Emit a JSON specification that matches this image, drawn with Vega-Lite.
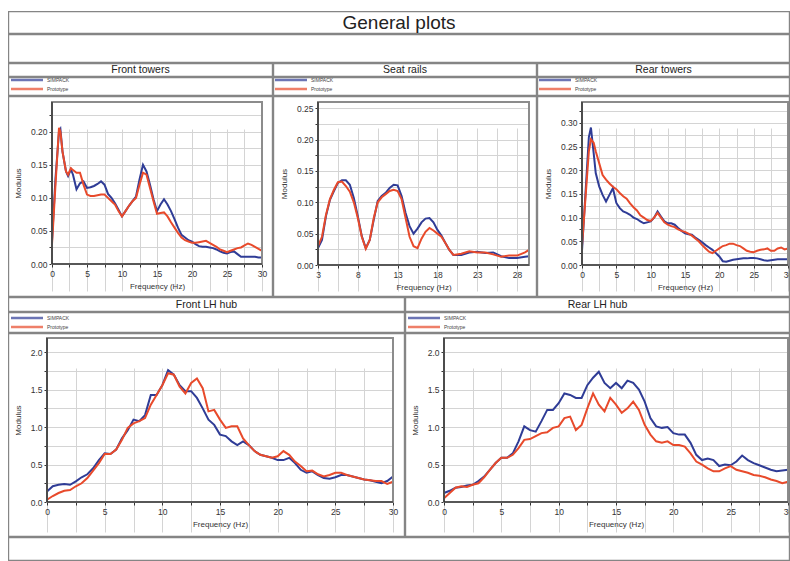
{
"$schema": "https://vega.github.io/schema/vega-lite/v6.json",
"padding": {"left": 8, "top": 11, "right": 0, "bottom": 0},
"background": "white",
"datasets": {
"ft": [
{"f":0,"SIMPACK":0.035,"Prototype":0.03},{"f":0.5,"SIMPACK":0.13,"Prototype":0.12},{"f":1,"SIMPACK":0.2,"Prototype":0.206},{"f":1.2,"SIMPACK":0.204,"Prototype":0.2},{"f":1.5,"SIMPACK":0.17,"Prototype":0.17},{"f":2,"SIMPACK":0.14,"Prototype":0.14},{"f":2.3,"SIMPACK":0.133,"Prototype":0.135},{"f":2.7,"SIMPACK":0.143,"Prototype":0.145},{"f":3,"SIMPACK":0.135,"Prototype":0.142},{"f":3.5,"SIMPACK":0.113,"Prototype":0.138},{"f":4,"SIMPACK":0.122,"Prototype":0.138},{"f":4.5,"SIMPACK":0.125,"Prototype":0.12},{"f":5,"SIMPACK":0.115,"Prototype":0.105},{"f":5.5,"SIMPACK":0.116,"Prototype":0.103},{"f":6,"SIMPACK":0.118,"Prototype":0.103},{"f":6.5,"SIMPACK":0.121,"Prototype":0.104},{"f":7,"SIMPACK":0.125,"Prototype":0.105},{"f":7.5,"SIMPACK":0.12,"Prototype":0.105},{"f":8,"SIMPACK":0.106,"Prototype":0.1},{"f":8.5,"SIMPACK":0.1,"Prototype":0.095},{"f":9,"SIMPACK":0.092,"Prototype":0.09},{"f":9.5,"SIMPACK":0.082,"Prototype":0.08},{"f":10,"SIMPACK":0.072,"Prototype":0.072},{"f":10.5,"SIMPACK":0.08,"Prototype":0.08},{"f":11,"SIMPACK":0.088,"Prototype":0.088},{"f":11.5,"SIMPACK":0.095,"Prototype":0.095},{"f":12,"SIMPACK":0.102,"Prototype":0.1},{"f":12.5,"SIMPACK":0.128,"Prototype":0.12},{"f":13,"SIMPACK":0.15,"Prototype":0.138},{"f":13.5,"SIMPACK":0.14,"Prototype":0.135},{"f":14,"SIMPACK":0.12,"Prototype":0.115},{"f":14.5,"SIMPACK":0.098,"Prototype":0.095},{"f":15,"SIMPACK":0.08,"Prototype":0.076},{"f":15.5,"SIMPACK":0.09,"Prototype":0.077},{"f":16,"SIMPACK":0.098,"Prototype":0.078},{"f":16.5,"SIMPACK":0.09,"Prototype":0.072},{"f":17,"SIMPACK":0.08,"Prototype":0.063},{"f":17.5,"SIMPACK":0.068,"Prototype":0.055},{"f":18,"SIMPACK":0.055,"Prototype":0.047},{"f":18.5,"SIMPACK":0.044,"Prototype":0.04},{"f":19,"SIMPACK":0.04,"Prototype":0.036},{"f":19.5,"SIMPACK":0.036,"Prototype":0.034},{"f":20,"SIMPACK":0.034,"Prototype":0.032},{"f":20.5,"SIMPACK":0.03,"Prototype":0.032},{"f":21,"SIMPACK":0.027,"Prototype":0.033},{"f":21.5,"SIMPACK":0.026,"Prototype":0.034},{"f":22,"SIMPACK":0.026,"Prototype":0.035},{"f":22.5,"SIMPACK":0.025,"Prototype":0.032},{"f":23,"SIMPACK":0.024,"Prototype":0.029},{"f":23.5,"SIMPACK":0.022,"Prototype":0.026},{"f":24,"SIMPACK":0.019,"Prototype":0.022},{"f":24.5,"SIMPACK":0.017,"Prototype":0.02},{"f":25,"SIMPACK":0.016,"Prototype":0.018},{"f":25.5,"SIMPACK":0.018,"Prototype":0.02},{"f":26,"SIMPACK":0.019,"Prototype":0.022},{"f":26.5,"SIMPACK":0.015,"Prototype":0.024},{"f":27,"SIMPACK":0.011,"Prototype":0.025},{"f":27.5,"SIMPACK":0.011,"Prototype":0.028},{"f":28,"SIMPACK":0.011,"Prototype":0.031},{"f":28.5,"SIMPACK":0.011,"Prototype":0.029},{"f":29,"SIMPACK":0.011,"Prototype":0.026},{"f":29.5,"SIMPACK":0.01,"Prototype":0.023},{"f":30,"SIMPACK":0.01,"Prototype":0.02}
],
"sr": [
{"f":3,"SIMPACK":0.027,"Prototype":0.03},{"f":3.5,"SIMPACK":0.04,"Prototype":0.045},{"f":4,"SIMPACK":0.078,"Prototype":0.08},{"f":4.5,"SIMPACK":0.104,"Prototype":0.105},{"f":5,"SIMPACK":0.118,"Prototype":0.12},{"f":5.5,"SIMPACK":0.131,"Prototype":0.132},{"f":6,"SIMPACK":0.135,"Prototype":0.133},{"f":6.5,"SIMPACK":0.135,"Prototype":0.126},{"f":7,"SIMPACK":0.128,"Prototype":0.117},{"f":7.5,"SIMPACK":0.107,"Prototype":0.1},{"f":8,"SIMPACK":0.078,"Prototype":0.075},{"f":8.5,"SIMPACK":0.046,"Prototype":0.045},{"f":9,"SIMPACK":0.027,"Prototype":0.026},{"f":9.5,"SIMPACK":0.04,"Prototype":0.04},{"f":10,"SIMPACK":0.072,"Prototype":0.075},{"f":10.5,"SIMPACK":0.102,"Prototype":0.1},{"f":11,"SIMPACK":0.11,"Prototype":0.108},{"f":11.5,"SIMPACK":0.115,"Prototype":0.113},{"f":12,"SIMPACK":0.123,"Prototype":0.118},{"f":12.5,"SIMPACK":0.128,"Prototype":0.12},{"f":13,"SIMPACK":0.127,"Prototype":0.118},{"f":13.5,"SIMPACK":0.11,"Prototype":0.105},{"f":14,"SIMPACK":0.083,"Prototype":0.075},{"f":14.5,"SIMPACK":0.062,"Prototype":0.045},{"f":15,"SIMPACK":0.05,"Prototype":0.03},{"f":15.5,"SIMPACK":0.058,"Prototype":0.027},{"f":16,"SIMPACK":0.068,"Prototype":0.042},{"f":16.5,"SIMPACK":0.074,"Prototype":0.053},{"f":17,"SIMPACK":0.075,"Prototype":0.059},{"f":17.5,"SIMPACK":0.068,"Prototype":0.055},{"f":18,"SIMPACK":0.056,"Prototype":0.05},{"f":18.5,"SIMPACK":0.047,"Prototype":0.045},{"f":19,"SIMPACK":0.035,"Prototype":0.035},{"f":19.5,"SIMPACK":0.024,"Prototype":0.024},{"f":20,"SIMPACK":0.016,"Prototype":0.016},{"f":21,"SIMPACK":0.016,"Prototype":0.018},{"f":22,"SIMPACK":0.02,"Prototype":0.022},{"f":23,"SIMPACK":0.021,"Prototype":0.02},{"f":24,"SIMPACK":0.019,"Prototype":0.02},{"f":25,"SIMPACK":0.02,"Prototype":0.017},{"f":26,"SIMPACK":0.014,"Prototype":0.013},{"f":27,"SIMPACK":0.011,"Prototype":0.015},{"f":28,"SIMPACK":0.011,"Prototype":0.015},{"f":29,"SIMPACK":0.013,"Prototype":0.02},{"f":29.5,"SIMPACK":0.014,"Prototype":0.024}
],
"rt": [
{"f":0,"SIMPACK":0.03,"Prototype":0.04},{"f":0.5,"SIMPACK":0.15,"Prototype":0.14},{"f":1,"SIMPACK":0.27,"Prototype":0.24},{"f":1.3,"SIMPACK":0.29,"Prototype":0.265},{"f":1.7,"SIMPACK":0.236,"Prototype":0.258},{"f":2,"SIMPACK":0.194,"Prototype":0.24},{"f":2.5,"SIMPACK":0.166,"Prototype":0.215},{"f":3,"SIMPACK":0.148,"Prototype":0.19},{"f":3.5,"SIMPACK":0.134,"Prototype":0.18},{"f":4,"SIMPACK":0.148,"Prototype":0.172},{"f":4.5,"SIMPACK":0.162,"Prototype":0.165},{"f":5,"SIMPACK":0.131,"Prototype":0.16},{"f":5.5,"SIMPACK":0.12,"Prototype":0.152},{"f":6,"SIMPACK":0.113,"Prototype":0.145},{"f":6.5,"SIMPACK":0.11,"Prototype":0.14},{"f":7,"SIMPACK":0.106,"Prototype":0.13},{"f":7.5,"SIMPACK":0.1,"Prototype":0.122},{"f":8,"SIMPACK":0.097,"Prototype":0.115},{"f":8.5,"SIMPACK":0.092,"Prototype":0.105},{"f":9,"SIMPACK":0.088,"Prototype":0.1},{"f":9.5,"SIMPACK":0.09,"Prototype":0.095},{"f":10,"SIMPACK":0.092,"Prototype":0.093},{"f":10.5,"SIMPACK":0.1,"Prototype":0.1},{"f":11,"SIMPACK":0.113,"Prototype":0.11},{"f":11.5,"SIMPACK":0.102,"Prototype":0.1},{"f":12,"SIMPACK":0.092,"Prototype":0.09},{"f":12.5,"SIMPACK":0.088,"Prototype":0.085},{"f":13,"SIMPACK":0.088,"Prototype":0.082},{"f":13.5,"SIMPACK":0.085,"Prototype":0.08},{"f":14,"SIMPACK":0.078,"Prototype":0.075},{"f":14.5,"SIMPACK":0.072,"Prototype":0.072},{"f":15,"SIMPACK":0.067,"Prototype":0.07},{"f":15.5,"SIMPACK":0.065,"Prototype":0.066},{"f":16,"SIMPACK":0.064,"Prototype":0.062},{"f":16.5,"SIMPACK":0.058,"Prototype":0.056},{"f":17,"SIMPACK":0.053,"Prototype":0.05},{"f":17.5,"SIMPACK":0.048,"Prototype":0.042},{"f":18,"SIMPACK":0.042,"Prototype":0.035},{"f":18.5,"SIMPACK":0.037,"Prototype":0.028},{"f":19,"SIMPACK":0.032,"Prototype":0.025},{"f":19.5,"SIMPACK":0.025,"Prototype":0.03},{"f":20,"SIMPACK":0.018,"Prototype":0.035},{"f":20.5,"SIMPACK":0.008,"Prototype":0.04},{"f":21,"SIMPACK":0.007,"Prototype":0.042},{"f":21.5,"SIMPACK":0.009,"Prototype":0.045},{"f":22,"SIMPACK":0.011,"Prototype":0.045},{"f":22.5,"SIMPACK":0.012,"Prototype":0.042},{"f":23,"SIMPACK":0.013,"Prototype":0.04},{"f":23.5,"SIMPACK":0.014,"Prototype":0.035},{"f":24,"SIMPACK":0.014,"Prototype":0.03},{"f":24.5,"SIMPACK":0.015,"Prototype":0.028},{"f":25,"SIMPACK":0.015,"Prototype":0.027},{"f":25.5,"SIMPACK":0.014,"Prototype":0.03},{"f":26,"SIMPACK":0.012,"Prototype":0.032},{"f":26.5,"SIMPACK":0.01,"Prototype":0.033},{"f":27,"SIMPACK":0.009,"Prototype":0.035},{"f":27.5,"SIMPACK":0.01,"Prototype":0.03},{"f":28,"SIMPACK":0.011,"Prototype":0.03},{"f":28.5,"SIMPACK":0.012,"Prototype":0.035},{"f":29,"SIMPACK":0.012,"Prototype":0.037},{"f":29.5,"SIMPACK":0.012,"Prototype":0.033},{"f":30,"SIMPACK":0.012,"Prototype":0.035}
],
"fh": [
{"f":0,"SIMPACK":0.14,"Prototype":0.03},{"f":0.5,"SIMPACK":0.21,"Prototype":0.08},{"f":1,"SIMPACK":0.23,"Prototype":0.12},{"f":1.5,"SIMPACK":0.24,"Prototype":0.15},{"f":2,"SIMPACK":0.23,"Prototype":0.16},{"f":2.5,"SIMPACK":0.275,"Prototype":0.21},{"f":3,"SIMPACK":0.33,"Prototype":0.25},{"f":3.5,"SIMPACK":0.37,"Prototype":0.32},{"f":4,"SIMPACK":0.45,"Prototype":0.42},{"f":4.5,"SIMPACK":0.56,"Prototype":0.52},{"f":5,"SIMPACK":0.65,"Prototype":0.64},{"f":5.5,"SIMPACK":0.64,"Prototype":0.64},{"f":6,"SIMPACK":0.7,"Prototype":0.7},{"f":6.5,"SIMPACK":0.85,"Prototype":0.83},{"f":7,"SIMPACK":0.96,"Prototype":0.99},{"f":7.5,"SIMPACK":1.1,"Prototype":1.05},{"f":8,"SIMPACK":1.08,"Prototype":1.08},{"f":8.5,"SIMPACK":1.16,"Prototype":1.12},{"f":9,"SIMPACK":1.43,"Prototype":1.3},{"f":9.5,"SIMPACK":1.43,"Prototype":1.43},{"f":10,"SIMPACK":1.56,"Prototype":1.56},{"f":10.5,"SIMPACK":1.76,"Prototype":1.72},{"f":11,"SIMPACK":1.7,"Prototype":1.7},{"f":11.5,"SIMPACK":1.56,"Prototype":1.54},{"f":12,"SIMPACK":1.48,"Prototype":1.45},{"f":12.5,"SIMPACK":1.48,"Prototype":1.59},{"f":13,"SIMPACK":1.39,"Prototype":1.65},{"f":13.5,"SIMPACK":1.25,"Prototype":1.52},{"f":14,"SIMPACK":1.1,"Prototype":1.21},{"f":14.5,"SIMPACK":1.03,"Prototype":1.23},{"f":15,"SIMPACK":0.9,"Prototype":1.1},{"f":15.5,"SIMPACK":0.88,"Prototype":0.99},{"f":16,"SIMPACK":0.81,"Prototype":1.01},{"f":16.5,"SIMPACK":0.76,"Prototype":1.01},{"f":17,"SIMPACK":0.81,"Prototype":0.85},{"f":17.5,"SIMPACK":0.76,"Prototype":0.76},{"f":18,"SIMPACK":0.68,"Prototype":0.68},{"f":18.5,"SIMPACK":0.63,"Prototype":0.63},{"f":19,"SIMPACK":0.61,"Prototype":0.61},{"f":19.5,"SIMPACK":0.59,"Prototype":0.59},{"f":20,"SIMPACK":0.56,"Prototype":0.61},{"f":20.5,"SIMPACK":0.56,"Prototype":0.68},{"f":21,"SIMPACK":0.59,"Prototype":0.63},{"f":21.5,"SIMPACK":0.52,"Prototype":0.54},{"f":22,"SIMPACK":0.43,"Prototype":0.48},{"f":22.5,"SIMPACK":0.39,"Prototype":0.41},{"f":23,"SIMPACK":0.41,"Prototype":0.42},{"f":23.5,"SIMPACK":0.36,"Prototype":0.37},{"f":24,"SIMPACK":0.32,"Prototype":0.34},{"f":24.5,"SIMPACK":0.31,"Prototype":0.36},{"f":25,"SIMPACK":0.33,"Prototype":0.39},{"f":25.5,"SIMPACK":0.36,"Prototype":0.39},{"f":26,"SIMPACK":0.36,"Prototype":0.36},{"f":26.5,"SIMPACK":0.34,"Prototype":0.34},{"f":27,"SIMPACK":0.32,"Prototype":0.32},{"f":27.5,"SIMPACK":0.3,"Prototype":0.3},{"f":28,"SIMPACK":0.29,"Prototype":0.29},{"f":28.5,"SIMPACK":0.27,"Prototype":0.28},{"f":29,"SIMPACK":0.25,"Prototype":0.28},{"f":29.5,"SIMPACK":0.28,"Prototype":0.24},{"f":30,"SIMPACK":0.34,"Prototype":0.27}
],
"rh": [
{"f":0,"SIMPACK":0.12,"Prototype":0.05},{"f":0.5,"SIMPACK":0.15,"Prototype":0.12},{"f":1,"SIMPACK":0.19,"Prototype":0.19},{"f":1.5,"SIMPACK":0.2,"Prototype":0.21},{"f":2,"SIMPACK":0.22,"Prototype":0.2},{"f":2.5,"SIMPACK":0.23,"Prototype":0.23},{"f":3,"SIMPACK":0.28,"Prototype":0.25},{"f":3.5,"SIMPACK":0.34,"Prototype":0.33},{"f":4,"SIMPACK":0.43,"Prototype":0.43},{"f":4.5,"SIMPACK":0.52,"Prototype":0.52},{"f":5,"SIMPACK":0.59,"Prototype":0.59},{"f":5.5,"SIMPACK":0.59,"Prototype":0.59},{"f":6,"SIMPACK":0.65,"Prototype":0.63},{"f":6.5,"SIMPACK":0.81,"Prototype":0.72},{"f":7,"SIMPACK":1.01,"Prototype":0.83},{"f":7.5,"SIMPACK":0.96,"Prototype":0.84},{"f":8,"SIMPACK":0.94,"Prototype":0.88},{"f":8.5,"SIMPACK":1.08,"Prototype":0.92},{"f":9,"SIMPACK":1.23,"Prototype":0.93},{"f":9.5,"SIMPACK":1.23,"Prototype":0.99},{"f":10,"SIMPACK":1.32,"Prototype":1.01},{"f":10.5,"SIMPACK":1.45,"Prototype":1.12},{"f":11,"SIMPACK":1.43,"Prototype":1.14},{"f":11.5,"SIMPACK":1.39,"Prototype":0.96},{"f":12,"SIMPACK":1.39,"Prototype":1.03},{"f":12.5,"SIMPACK":1.56,"Prototype":1.25},{"f":13,"SIMPACK":1.66,"Prototype":1.45},{"f":13.5,"SIMPACK":1.74,"Prototype":1.3},{"f":14,"SIMPACK":1.59,"Prototype":1.21},{"f":14.5,"SIMPACK":1.52,"Prototype":1.39},{"f":15,"SIMPACK":1.59,"Prototype":1.3},{"f":15.5,"SIMPACK":1.52,"Prototype":1.19},{"f":16,"SIMPACK":1.62,"Prototype":1.25},{"f":16.5,"SIMPACK":1.59,"Prototype":1.34},{"f":17,"SIMPACK":1.5,"Prototype":1.23},{"f":17.5,"SIMPACK":1.34,"Prototype":1.03},{"f":18,"SIMPACK":1.12,"Prototype":0.9},{"f":18.5,"SIMPACK":1.01,"Prototype":0.81},{"f":19,"SIMPACK":0.99,"Prototype":0.79},{"f":19.5,"SIMPACK":1.0,"Prototype":0.81},{"f":20,"SIMPACK":0.92,"Prototype":0.76},{"f":20.5,"SIMPACK":0.9,"Prototype":0.76},{"f":21,"SIMPACK":0.9,"Prototype":0.74},{"f":21.5,"SIMPACK":0.79,"Prototype":0.65},{"f":22,"SIMPACK":0.63,"Prototype":0.54},{"f":22.5,"SIMPACK":0.56,"Prototype":0.5},{"f":23,"SIMPACK":0.58,"Prototype":0.45},{"f":23.5,"SIMPACK":0.56,"Prototype":0.41},{"f":24,"SIMPACK":0.48,"Prototype":0.41},{"f":24.5,"SIMPACK":0.5,"Prototype":0.45},{"f":25,"SIMPACK":0.49,"Prototype":0.48},{"f":25.5,"SIMPACK":0.54,"Prototype":0.43},{"f":26,"SIMPACK":0.62,"Prototype":0.41},{"f":26.5,"SIMPACK":0.56,"Prototype":0.39},{"f":27,"SIMPACK":0.52,"Prototype":0.36},{"f":27.5,"SIMPACK":0.49,"Prototype":0.35},{"f":28,"SIMPACK":0.46,"Prototype":0.33},{"f":28.5,"SIMPACK":0.43,"Prototype":0.3},{"f":29,"SIMPACK":0.41,"Prototype":0.28},{"f":29.5,"SIMPACK":0.42,"Prototype":0.25},{"f":30,"SIMPACK":0.43,"Prototype":0.27}
],
"series": [{"s": "SIMPACK"}, {"s": "Prototype"}],
"one": [{}]
},
"vconcat": [
{"width": 782, "height": 23, "data": {"values": [{"t": "General plots"}]}, "layer": [{"data": {"name": "one"}, "mark": {"type": "rect", "fillOpacity": 0, "stroke": "#858585", "strokeWidth": 2.4, "clip": true}, "encoding": {}}, {"mark": {"type": "text", "fontSize": 19, "color": "#222"}, "encoding": {"text": {"field": "t"}}}]},
{"width": 782, "height": 29, "data": {"name": "one"}, "mark": {"type": "rect", "fillOpacity": 0, "stroke": "#858585", "strokeWidth": 2.4, "clip": true}, "encoding": {}},
{"hconcat": [
 {"vconcat": [
  {"width": 265, "height": 14, "data": {"values": [{"t": "Front towers"}]}, "layer": [{"data": {"name": "one"}, "mark": {"type": "rect", "fillOpacity": 0, "stroke": "#858585", "strokeWidth": 2.4, "clip": true}, "encoding": {}}, {"mark": {"type": "text", "fontSize": 10.5, "color": "#222"}, "encoding": {"text": {"field": "t"}}}]},
  {"width": 265, "height": 19, "layer": [{"data": {"name": "one"}, "mark": {"type": "rect", "fillOpacity": 0, "stroke": "#858585", "strokeWidth": 2.4, "clip": true}, "encoding": {}}, {"data": {"name": "series"}, "mark": {"type": "point", "size": 0, "filled": false}, "encoding": {"color": {"field": "s", "type": "nominal", "scale": {"domain": ["SIMPACK", "Prototype"], "range": ["#2f3c96", "#e84a2b"]}, "legend": {"title": null, "orient": "none", "legendX": 15, "legendY": -1, "direction": "vertical", "symbolType": "M-5.84,0H5.84", "symbolSize": 30, "symbolStrokeWidth": 2.5, "labelFontSize": 5, "labelOffset": 16, "rowPadding": -2, "padding": 0, "labelColor": "#444"}}}}]},
  {"width": 265, "height": 201, "layer": [
   {"data": {"name": "ft"}, "transform": [{"fold": ["SIMPACK", "Prototype"], "as": ["s", "m"]}],
    "mark": {"type": "line", "strokeWidth": 2},
    "encoding": {
     "x": {"field": "f", "type": "quantitative", "scale": {"domain": [0, 30], "range": [44, 254], "nice": false, "zero": false},
       "axis": {"title": "Frequency (Hz)", "offset": -33, "values": [0,2.5,5,7.5,10,12.5,15,17.5,20,22.5,25,27.5,30], "labelExpr": "datum.value % 1 === 0 ? datum.label : ''"}},
     "y": {"field": "m", "type": "quantitative", "scale": {"domain": [0, 0.245], "range": [168, 6], "nice": false},
       "axis": {"title": "Modulus", "offset": -44, "format": ".2f", "values": [0,0.025,0.05,0.075,0.1,0.125,0.15,0.175,0.2,0.225], "labelExpr": "abs(datum.value*20 - round(datum.value*20)) < 0.001 ? datum.label : ''"}},
     "color": {"field": "s", "type": "nominal", "scale": {"domain": ["SIMPACK", "Prototype"], "range": ["#2f3c96", "#e84a2b"]}, "legend": null}
    }},
   {"data": {"name": "one"}, "mark": {"type": "rect", "fillOpacity": 0, "stroke": "#8c8c8c", "strokeWidth": 2}, "encoding": {
     "x": {"datum": 0, "axis": {"title": "Frequency (Hz)", "offset": -33, "values": [0,2.5,5,7.5,10,12.5,15,17.5,20,22.5,25,27.5,30], "labelExpr": "datum.value % 1 === 0 ? datum.label : ''"}}, "x2": {"datum": 30},
     "y": {"datum": 0, "axis": {"title": "Modulus", "offset": -44, "format": ".2f", "values": [0,0.025,0.05,0.075,0.1,0.125,0.15,0.175,0.2,0.225], "labelExpr": "abs(datum.value*20 - round(datum.value*20)) < 0.001 ? datum.label : ''"}}, "y2": {"datum": 0.245}}},
   {"data": {"name": "one"}, "mark": {"type": "rule", "color": "#222", "strokeWidth": 1.2}, "encoding": {
     "x": {"datum": 0, "axis": {"title": "Frequency (Hz)", "offset": -33, "values": [0,2.5,5,7.5,10,12.5,15,17.5,20,22.5,25,27.5,30], "labelExpr": "datum.value % 1 === 0 ? datum.label : ''"}},
     "y": {"datum": 0, "axis": {"title": "Modulus", "offset": -44, "format": ".2f", "values": [0,0.025,0.05,0.075,0.1,0.125,0.15,0.175,0.2,0.225], "labelExpr": "abs(datum.value*20 - round(datum.value*20)) < 0.001 ? datum.label : ''"}}, "y2": {"datum": 0.245}}},
   {"data": {"name": "one"}, "mark": {"type": "rule", "color": "#222", "strokeWidth": 1.2}, "encoding": {
     "x": {"datum": 0, "axis": {"title": "Frequency (Hz)", "offset": -33, "values": [0,2.5,5,7.5,10,12.5,15,17.5,20,22.5,25,27.5,30], "labelExpr": "datum.value % 1 === 0 ? datum.label : ''"}}, "x2": {"datum": 30},
     "y": {"datum": 0, "axis": {"title": "Modulus", "offset": -44, "format": ".2f", "values": [0,0.025,0.05,0.075,0.1,0.125,0.15,0.175,0.2,0.225], "labelExpr": "abs(datum.value*20 - round(datum.value*20)) < 0.001 ? datum.label : ''"}}}},
   {"data": {"name": "one"}, "mark": {"type": "rect", "fillOpacity": 0, "stroke": "#858585", "strokeWidth": 2.4, "clip": true}, "encoding": {"x": {"value": 0}, "x2": {"value": "width"}, "y": {"value": 0}, "y2": {"value": "height"}}}
  ]}
 ], "bounds": "flush", "spacing": 0, "resolve": {"scale": {"color": "independent"}}},
 {"vconcat": [
  {"width": 264, "height": 14, "data": {"values": [{"t": "Seat rails"}]}, "layer": [{"data": {"name": "one"}, "mark": {"type": "rect", "fillOpacity": 0, "stroke": "#858585", "strokeWidth": 2.4, "clip": true}, "encoding": {}}, {"mark": {"type": "text", "fontSize": 10.5, "color": "#222"}, "encoding": {"text": {"field": "t"}}}]},
  {"width": 264, "height": 19, "layer": [{"data": {"name": "one"}, "mark": {"type": "rect", "fillOpacity": 0, "stroke": "#858585", "strokeWidth": 2.4, "clip": true}, "encoding": {}}, {"data": {"name": "series"}, "mark": {"type": "point", "size": 0, "filled": false}, "encoding": {"color": {"field": "s", "type": "nominal", "scale": {"domain": ["SIMPACK", "Prototype"], "range": ["#2f3c96", "#e84a2b"]}, "legend": {"title": null, "orient": "none", "legendX": 14, "legendY": -1, "direction": "vertical", "symbolType": "M-5.84,0H5.84", "symbolSize": 30, "symbolStrokeWidth": 2.5, "labelFontSize": 5, "labelOffset": 16, "rowPadding": -2, "padding": 0, "labelColor": "#444"}}}}]},
  {"width": 264, "height": 201, "layer": [
   {"data": {"name": "sr"}, "transform": [{"fold": ["SIMPACK", "Prototype"], "as": ["s", "m"]}],
    "mark": {"type": "line", "strokeWidth": 2},
    "encoding": {
     "x": {"field": "f", "type": "quantitative", "scale": {"domain": [3, 29.5], "range": [45, 256], "nice": false, "zero": false},
       "axis": {"title": "Frequency (Hz)", "offset": -32, "values": [3,5.5,8,10.5,13,15.5,18,20.5,23,25.5,28], "labelExpr": "datum.value % 1 === 0 ? datum.label : ''"}},
     "y": {"field": "m", "type": "quantitative", "scale": {"domain": [0, 0.26], "range": [169, 6], "nice": false},
       "axis": {"title": "Modulus", "offset": -45, "format": ".2f", "values": [0,0.025,0.05,0.075,0.1,0.125,0.15,0.175,0.2,0.225,0.25], "labelExpr": "abs(datum.value*20 - round(datum.value*20)) < 0.001 ? datum.label : ''"}},
     "color": {"field": "s", "type": "nominal", "scale": {"domain": ["SIMPACK", "Prototype"], "range": ["#2f3c96", "#e84a2b"]}, "legend": null}
    }},
   {"data": {"name": "one"}, "mark": {"type": "rect", "fillOpacity": 0, "stroke": "#8c8c8c", "strokeWidth": 2}, "encoding": {
     "x": {"datum": 3, "axis": {"title": "Frequency (Hz)", "offset": -32, "values": [3,5.5,8,10.5,13,15.5,18,20.5,23,25.5,28], "labelExpr": "datum.value % 1 === 0 ? datum.label : ''"}}, "x2": {"datum": 29.5},
     "y": {"datum": 0, "axis": {"title": "Modulus", "offset": -45, "format": ".2f", "values": [0,0.025,0.05,0.075,0.1,0.125,0.15,0.175,0.2,0.225,0.25], "labelExpr": "abs(datum.value*20 - round(datum.value*20)) < 0.001 ? datum.label : ''"}}, "y2": {"datum": 0.26}}},
   {"data": {"name": "one"}, "mark": {"type": "rule", "color": "#222", "strokeWidth": 1.2}, "encoding": {
     "x": {"datum": 3, "axis": {"title": "Frequency (Hz)", "offset": -32, "values": [3,5.5,8,10.5,13,15.5,18,20.5,23,25.5,28], "labelExpr": "datum.value % 1 === 0 ? datum.label : ''"}},
     "y": {"datum": 0, "axis": {"title": "Modulus", "offset": -45, "format": ".2f", "values": [0,0.025,0.05,0.075,0.1,0.125,0.15,0.175,0.2,0.225,0.25], "labelExpr": "abs(datum.value*20 - round(datum.value*20)) < 0.001 ? datum.label : ''"}}, "y2": {"datum": 0.26}}},
   {"data": {"name": "one"}, "mark": {"type": "rule", "color": "#222", "strokeWidth": 1.2}, "encoding": {
     "x": {"datum": 3, "axis": {"title": "Frequency (Hz)", "offset": -32, "values": [3,5.5,8,10.5,13,15.5,18,20.5,23,25.5,28], "labelExpr": "datum.value % 1 === 0 ? datum.label : ''"}}, "x2": {"datum": 29.5},
     "y": {"datum": 0, "axis": {"title": "Modulus", "offset": -45, "format": ".2f", "values": [0,0.025,0.05,0.075,0.1,0.125,0.15,0.175,0.2,0.225,0.25], "labelExpr": "abs(datum.value*20 - round(datum.value*20)) < 0.001 ? datum.label : ''"}}}},
   {"data": {"name": "one"}, "mark": {"type": "rect", "fillOpacity": 0, "stroke": "#858585", "strokeWidth": 2.4, "clip": true}, "encoding": {"x": {"value": 0}, "x2": {"value": "width"}, "y": {"value": 0}, "y2": {"value": "height"}}}
  ]}
 ], "bounds": "flush", "spacing": 0, "resolve": {"scale": {"color": "independent"}}},
 {"vconcat": [
  {"width": 253, "height": 14, "data": {"values": [{"t": "Rear towers"}]}, "layer": [{"data": {"name": "one"}, "mark": {"type": "rect", "fillOpacity": 0, "stroke": "#858585", "strokeWidth": 2.4, "clip": true}, "encoding": {}}, {"mark": {"type": "text", "fontSize": 10.5, "color": "#222"}, "encoding": {"text": {"field": "t"}}}]},
  {"width": 253, "height": 19, "layer": [{"data": {"name": "one"}, "mark": {"type": "rect", "fillOpacity": 0, "stroke": "#858585", "strokeWidth": 2.4, "clip": true}, "encoding": {}}, {"data": {"name": "series"}, "mark": {"type": "point", "size": 0, "filled": false}, "encoding": {"color": {"field": "s", "type": "nominal", "scale": {"domain": ["SIMPACK", "Prototype"], "range": ["#2f3c96", "#e84a2b"]}, "legend": {"title": null, "orient": "none", "legendX": 14, "legendY": -1, "direction": "vertical", "symbolType": "M-5.84,0H5.84", "symbolSize": 30, "symbolStrokeWidth": 2.5, "labelFontSize": 5, "labelOffset": 16, "rowPadding": -2, "padding": 0, "labelColor": "#444"}}}}]},
  {"width": 253, "height": 201, "layer": [
   {"data": {"name": "rt"}, "transform": [{"fold": ["SIMPACK", "Prototype"], "as": ["s", "m"]}],
    "mark": {"type": "line", "strokeWidth": 2},
    "encoding": {
     "x": {"field": "f", "type": "quantitative", "scale": {"domain": [0, 30], "range": [45, 251], "nice": false, "zero": false},
       "axis": {"title": "Frequency (Hz)", "offset": -32, "values": [0,2.5,5,7.5,10,12.5,15,17.5,20,22.5,25,27.5,30], "labelExpr": "datum.value % 1 === 0 ? datum.label : ''"}},
     "y": {"field": "m", "type": "quantitative", "scale": {"domain": [0, 0.344], "range": [169, 6], "nice": false},
       "axis": {"title": "Modulus", "offset": -45, "format": ".2f", "values": [0,0.025,0.05,0.075,0.1,0.125,0.15,0.175,0.2,0.225,0.25,0.275,0.3,0.325], "labelExpr": "abs(datum.value*20 - round(datum.value*20)) < 0.001 ? datum.label : ''"}},
     "color": {"field": "s", "type": "nominal", "scale": {"domain": ["SIMPACK", "Prototype"], "range": ["#2f3c96", "#e84a2b"]}, "legend": null}
    }},
   {"data": {"name": "one"}, "mark": {"type": "rect", "fillOpacity": 0, "stroke": "#8c8c8c", "strokeWidth": 2}, "encoding": {
     "x": {"datum": 0, "axis": {"title": "Frequency (Hz)", "offset": -32, "values": [0,2.5,5,7.5,10,12.5,15,17.5,20,22.5,25,27.5,30], "labelExpr": "datum.value % 1 === 0 ? datum.label : ''"}}, "x2": {"datum": 30},
     "y": {"datum": 0, "axis": {"title": "Modulus", "offset": -45, "format": ".2f", "values": [0,0.025,0.05,0.075,0.1,0.125,0.15,0.175,0.2,0.225,0.25,0.275,0.3,0.325], "labelExpr": "abs(datum.value*20 - round(datum.value*20)) < 0.001 ? datum.label : ''"}}, "y2": {"datum": 0.344}}},
   {"data": {"name": "one"}, "mark": {"type": "rule", "color": "#222", "strokeWidth": 1.2}, "encoding": {
     "x": {"datum": 0, "axis": {"title": "Frequency (Hz)", "offset": -32, "values": [0,2.5,5,7.5,10,12.5,15,17.5,20,22.5,25,27.5,30], "labelExpr": "datum.value % 1 === 0 ? datum.label : ''"}},
     "y": {"datum": 0, "axis": {"title": "Modulus", "offset": -45, "format": ".2f", "values": [0,0.025,0.05,0.075,0.1,0.125,0.15,0.175,0.2,0.225,0.25,0.275,0.3,0.325], "labelExpr": "abs(datum.value*20 - round(datum.value*20)) < 0.001 ? datum.label : ''"}}, "y2": {"datum": 0.344}}},
   {"data": {"name": "one"}, "mark": {"type": "rule", "color": "#222", "strokeWidth": 1.2}, "encoding": {
     "x": {"datum": 0, "axis": {"title": "Frequency (Hz)", "offset": -32, "values": [0,2.5,5,7.5,10,12.5,15,17.5,20,22.5,25,27.5,30], "labelExpr": "datum.value % 1 === 0 ? datum.label : ''"}}, "x2": {"datum": 30},
     "y": {"datum": 0, "axis": {"title": "Modulus", "offset": -45, "format": ".2f", "values": [0,0.025,0.05,0.075,0.1,0.125,0.15,0.175,0.2,0.225,0.25,0.275,0.3,0.325], "labelExpr": "abs(datum.value*20 - round(datum.value*20)) < 0.001 ? datum.label : ''"}}}},
   {"data": {"name": "one"}, "mark": {"type": "rect", "fillOpacity": 0, "stroke": "#858585", "strokeWidth": 2.4, "clip": true}, "encoding": {"x": {"value": 0}, "x2": {"value": "width"}, "y": {"value": 0}, "y2": {"value": "height"}}}
  ]}
 ], "bounds": "flush", "spacing": 0, "resolve": {"scale": {"color": "independent"}}}
], "spacing": 0, "resolve": {"scale": {"color": "independent"}}},
{"hconcat": [
 {"vconcat": [
  {"width": 397, "height": 15, "data": {"values": [{"t": "Front LH hub"}]}, "layer": [{"data": {"name": "one"}, "mark": {"type": "rect", "fillOpacity": 0, "stroke": "#858585", "strokeWidth": 2.4, "clip": true}, "encoding": {}}, {"mark": {"type": "text", "fontSize": 10.5, "color": "#222"}, "encoding": {"text": {"field": "t"}}}]},
  {"width": 397, "height": 21, "layer": [{"data": {"name": "one"}, "mark": {"type": "rect", "fillOpacity": 0, "stroke": "#858585", "strokeWidth": 2.4, "clip": true}, "encoding": {}}, {"data": {"name": "series"}, "mark": {"type": "point", "size": 0, "filled": false}, "encoding": {"color": {"field": "s", "type": "nominal", "scale": {"domain": ["SIMPACK", "Prototype"], "range": ["#2f3c96", "#e84a2b"]}, "legend": {"title": null, "orient": "none", "legendX": 15, "legendY": 2, "direction": "vertical", "symbolType": "M-5.84,0H5.84", "symbolSize": 30, "symbolStrokeWidth": 2.5, "labelFontSize": 5, "labelOffset": 16, "rowPadding": -2, "padding": 0, "labelColor": "#444"}}}}]},
  {"width": 397, "height": 204, "layer": [
   {"data": {"name": "fh"}, "transform": [{"fold": ["SIMPACK", "Prototype"], "as": ["s", "m"]}],
    "mark": {"type": "line", "strokeWidth": 2},
    "encoding": {
     "x": {"field": "f", "type": "quantitative", "scale": {"domain": [0, 30], "range": [39, 385], "nice": false, "zero": false},
       "axis": {"title": "Frequency (Hz)", "offset": -35, "values": [0,2.5,5,7.5,10,12.5,15,17.5,20,22.5,25,27.5,30], "labelExpr": "datum.value % 1 === 0 ? datum.label : ''"}},
     "y": {"field": "m", "type": "quantitative", "scale": {"domain": [0, 2.19], "range": [169, 5], "nice": false},
       "axis": {"title": "Modulus", "offset": -39, "format": ".1f", "values": [0,0.25,0.5,0.75,1,1.25,1.5,1.75,2], "labelExpr": "abs(datum.value*2 - round(datum.value*2)) < 0.001 ? datum.label : ''"}},
     "color": {"field": "s", "type": "nominal", "scale": {"domain": ["SIMPACK", "Prototype"], "range": ["#2f3c96", "#e84a2b"]}, "legend": null}
    }},
   {"data": {"name": "one"}, "mark": {"type": "rect", "fillOpacity": 0, "stroke": "#8c8c8c", "strokeWidth": 2}, "encoding": {
     "x": {"datum": 0, "axis": {"title": "Frequency (Hz)", "offset": -35, "values": [0,2.5,5,7.5,10,12.5,15,17.5,20,22.5,25,27.5,30], "labelExpr": "datum.value % 1 === 0 ? datum.label : ''"}}, "x2": {"datum": 30},
     "y": {"datum": 0, "axis": {"title": "Modulus", "offset": -39, "format": ".1f", "values": [0,0.25,0.5,0.75,1,1.25,1.5,1.75,2], "labelExpr": "abs(datum.value*2 - round(datum.value*2)) < 0.001 ? datum.label : ''"}}, "y2": {"datum": 2.19}}},
   {"data": {"name": "one"}, "mark": {"type": "rule", "color": "#222", "strokeWidth": 1.2}, "encoding": {
     "x": {"datum": 0, "axis": {"title": "Frequency (Hz)", "offset": -35, "values": [0,2.5,5,7.5,10,12.5,15,17.5,20,22.5,25,27.5,30], "labelExpr": "datum.value % 1 === 0 ? datum.label : ''"}},
     "y": {"datum": 0, "axis": {"title": "Modulus", "offset": -39, "format": ".1f", "values": [0,0.25,0.5,0.75,1,1.25,1.5,1.75,2], "labelExpr": "abs(datum.value*2 - round(datum.value*2)) < 0.001 ? datum.label : ''"}}, "y2": {"datum": 2.19}}},
   {"data": {"name": "one"}, "mark": {"type": "rule", "color": "#222", "strokeWidth": 1.2}, "encoding": {
     "x": {"datum": 0, "axis": {"title": "Frequency (Hz)", "offset": -35, "values": [0,2.5,5,7.5,10,12.5,15,17.5,20,22.5,25,27.5,30], "labelExpr": "datum.value % 1 === 0 ? datum.label : ''"}}, "x2": {"datum": 30},
     "y": {"datum": 0, "axis": {"title": "Modulus", "offset": -39, "format": ".1f", "values": [0,0.25,0.5,0.75,1,1.25,1.5,1.75,2], "labelExpr": "abs(datum.value*2 - round(datum.value*2)) < 0.001 ? datum.label : ''"}}}},
   {"data": {"name": "one"}, "mark": {"type": "rect", "fillOpacity": 0, "stroke": "#858585", "strokeWidth": 2.4, "clip": true}, "encoding": {"x": {"value": 0}, "x2": {"value": "width"}, "y": {"value": 0}, "y2": {"value": "height"}}}
  ]}
 ], "bounds": "flush", "spacing": 0, "resolve": {"scale": {"color": "independent"}}},
 {"vconcat": [
  {"width": 385, "height": 15, "data": {"values": [{"t": "Rear LH hub"}]}, "layer": [{"data": {"name": "one"}, "mark": {"type": "rect", "fillOpacity": 0, "stroke": "#858585", "strokeWidth": 2.4, "clip": true}, "encoding": {}}, {"mark": {"type": "text", "fontSize": 10.5, "color": "#222"}, "encoding": {"text": {"field": "t"}}}]},
  {"width": 385, "height": 21, "layer": [{"data": {"name": "one"}, "mark": {"type": "rect", "fillOpacity": 0, "stroke": "#858585", "strokeWidth": 2.4, "clip": true}, "encoding": {}}, {"data": {"name": "series"}, "mark": {"type": "point", "size": 0, "filled": false}, "encoding": {"color": {"field": "s", "type": "nominal", "scale": {"domain": ["SIMPACK", "Prototype"], "range": ["#2f3c96", "#e84a2b"]}, "legend": {"title": null, "orient": "none", "legendX": 15, "legendY": 2, "direction": "vertical", "symbolType": "M-5.84,0H5.84", "symbolSize": 30, "symbolStrokeWidth": 2.5, "labelFontSize": 5, "labelOffset": 16, "rowPadding": -2, "padding": 0, "labelColor": "#444"}}}}]},
  {"width": 385, "height": 204, "layer": [
   {"data": {"name": "rh"}, "transform": [{"fold": ["SIMPACK", "Prototype"], "as": ["s", "m"]}],
    "mark": {"type": "line", "strokeWidth": 2},
    "encoding": {
     "x": {"field": "f", "type": "quantitative", "scale": {"domain": [0, 30], "range": [39, 383], "nice": false, "zero": false},
       "axis": {"title": "Frequency (Hz)", "offset": -35, "values": [0,2.5,5,7.5,10,12.5,15,17.5,20,22.5,25,27.5,30], "labelExpr": "datum.value % 1 === 0 ? datum.label : ''"}},
     "y": {"field": "m", "type": "quantitative", "scale": {"domain": [0, 2.19], "range": [169, 5], "nice": false},
       "axis": {"title": "Modulus", "offset": -39, "format": ".1f", "values": [0,0.25,0.5,0.75,1,1.25,1.5,1.75,2], "labelExpr": "abs(datum.value*2 - round(datum.value*2)) < 0.001 ? datum.label : ''"}},
     "color": {"field": "s", "type": "nominal", "scale": {"domain": ["SIMPACK", "Prototype"], "range": ["#2f3c96", "#e84a2b"]}, "legend": null}
    }},
   {"data": {"name": "one"}, "mark": {"type": "rect", "fillOpacity": 0, "stroke": "#8c8c8c", "strokeWidth": 2}, "encoding": {
     "x": {"datum": 0, "axis": {"title": "Frequency (Hz)", "offset": -35, "values": [0,2.5,5,7.5,10,12.5,15,17.5,20,22.5,25,27.5,30], "labelExpr": "datum.value % 1 === 0 ? datum.label : ''"}}, "x2": {"datum": 30},
     "y": {"datum": 0, "axis": {"title": "Modulus", "offset": -39, "format": ".1f", "values": [0,0.25,0.5,0.75,1,1.25,1.5,1.75,2], "labelExpr": "abs(datum.value*2 - round(datum.value*2)) < 0.001 ? datum.label : ''"}}, "y2": {"datum": 2.19}}},
   {"data": {"name": "one"}, "mark": {"type": "rule", "color": "#222", "strokeWidth": 1.2}, "encoding": {
     "x": {"datum": 0, "axis": {"title": "Frequency (Hz)", "offset": -35, "values": [0,2.5,5,7.5,10,12.5,15,17.5,20,22.5,25,27.5,30], "labelExpr": "datum.value % 1 === 0 ? datum.label : ''"}},
     "y": {"datum": 0, "axis": {"title": "Modulus", "offset": -39, "format": ".1f", "values": [0,0.25,0.5,0.75,1,1.25,1.5,1.75,2], "labelExpr": "abs(datum.value*2 - round(datum.value*2)) < 0.001 ? datum.label : ''"}}, "y2": {"datum": 2.19}}},
   {"data": {"name": "one"}, "mark": {"type": "rule", "color": "#222", "strokeWidth": 1.2}, "encoding": {
     "x": {"datum": 0, "axis": {"title": "Frequency (Hz)", "offset": -35, "values": [0,2.5,5,7.5,10,12.5,15,17.5,20,22.5,25,27.5,30], "labelExpr": "datum.value % 1 === 0 ? datum.label : ''"}}, "x2": {"datum": 30},
     "y": {"datum": 0, "axis": {"title": "Modulus", "offset": -39, "format": ".1f", "values": [0,0.25,0.5,0.75,1,1.25,1.5,1.75,2], "labelExpr": "abs(datum.value*2 - round(datum.value*2)) < 0.001 ? datum.label : ''"}}}},
   {"data": {"name": "one"}, "mark": {"type": "rect", "fillOpacity": 0, "stroke": "#858585", "strokeWidth": 2.4, "clip": true}, "encoding": {"x": {"value": 0}, "x2": {"value": "width"}, "y": {"value": 0}, "y2": {"value": "height"}}}
  ]}
 ], "bounds": "flush", "spacing": 0, "resolve": {"scale": {"color": "independent"}}}
], "spacing": 0, "resolve": {"scale": {"color": "independent"}}},
{"width": 782, "height": 24, "data": {"name": "one"}, "mark": {"type": "rect", "fillOpacity": 0, "stroke": "#858585", "strokeWidth": 2.4, "clip": true}, "encoding": {}}
],
"spacing": 0,
"resolve": {"scale": {"color": "independent"}},
"config": {
 "font": "Liberation Sans",
 "view": {"stroke": null},
 "axis": {"grid": true, "gridColor": "#d4d4d4", "gridWidth": 1, "domain": false, "tickColor": "#333", "tickSize": 3, "labelFontSize": 8.5, "labelColor": "#333", "titleFontSize": 8, "titleFontWeight": "normal", "titleColor": "#333", "labelFlush": false, "labelOverlap": false, "labelPadding": 2},
 "axisX": {"titlePadding": 5},
 "axisY": {"titlePadding": 8}
}
}
